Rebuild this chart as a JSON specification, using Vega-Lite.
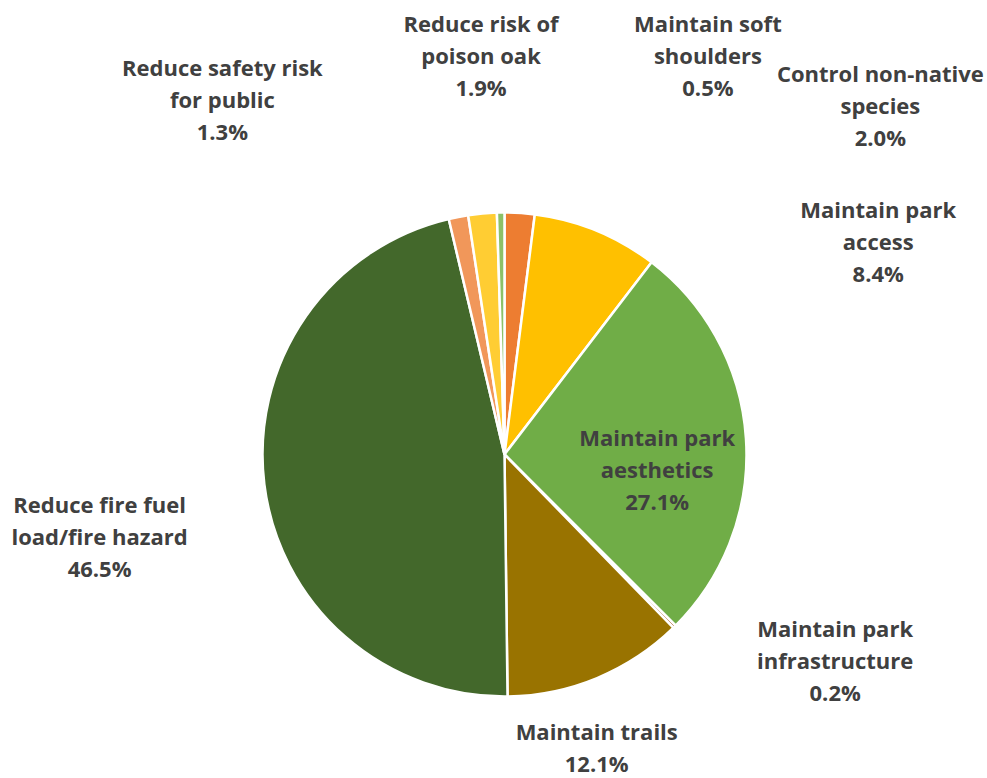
{
  "$schema": "https://vega.github.io/schema/vega-lite/v6.json",
  "width": 963,
  "height": 645,
  "autosize": {"type": "none"},
  "padding": {"left": 23, "top": 132, "right": 1, "bottom": 1},
  "background": "white",
  "data": {
    "values": [
      {"k": 1, "cat": "Control non-native species", "label": "Control non-native\nspecies", "share": 0.020},
      {"k": 2, "cat": "Maintain park access", "label": "Maintain park\naccess", "share": 0.084},
      {"k": 3, "cat": "Maintain park aesthetics", "label": "Maintain park\naesthetics", "share": 0.271},
      {"k": 4, "cat": "Maintain park infrastructure", "label": "Maintain park\ninfrastructure", "share": 0.002},
      {"k": 5, "cat": "Maintain trails", "label": "Maintain trails", "share": 0.121},
      {"k": 6, "cat": "Reduce fire fuel load/fire hazard", "label": "Reduce fire fuel\nload/fire hazard", "share": 0.465},
      {"k": 7, "cat": "Reduce safety risk for public", "label": "Reduce safety risk\nfor public", "share": 0.013},
      {"k": 8, "cat": "Reduce risk of poison oak", "label": "Reduce risk of\npoison oak", "share": 0.019},
      {"k": 9, "cat": "Maintain soft shoulders", "label": "Maintain soft\nshoulders", "share": 0.005}
    ]
  },
  "transform": [
    {"stack": "share", "groupby": [], "sort": [{"field": "k", "order": "ascending"}], "as": ["s0", "s1"]},
    {"fold": ["s0", "s1"], "as": ["edge", "pos"]},
    {"aggregate": [{"op": "mean", "field": "pos", "as": "mid"}], "groupby": ["k", "cat", "label", "share", "s0", "s1"]}
  ],
  "layer": [
    {
      "mark": {"type": "arc", "radius": 242, "stroke": "white", "strokeWidth": 2.5},
      "encoding": {
        "theta": {"field": "s0", "type": "quantitative", "stack": null, "scale": {"domain": [0, 1]}},
        "theta2": {"field": "s1"},
        "color": {
          "field": "cat", "type": "nominal", "legend": null,
          "scale": {
            "domain": ["Control non-native species", "Maintain park access", "Maintain park aesthetics", "Maintain park infrastructure", "Maintain trails", "Reduce fire fuel load/fire hazard", "Reduce safety risk for public", "Reduce risk of poison oak", "Maintain soft shoulders"],
            "range": ["#ED7D31", "#FFC000", "#70AD47", "#9E480E", "#997300", "#43682B", "#F1975A", "#FFCD33", "#8CC168"]
          }
        }
      }
    },
    {
      "transform": [{"filter": {"field": "cat", "equal": "Control non-native species"}}],
      "mark": {"type": "text", "radius": 396, "dx": 351, "dy": 23, "text": {"expr": "datum.label + '\\n' + format(datum.share, '.1%')"}},
      "encoding": {"theta": {"field": "mid", "type": "quantitative", "stack": null}}
    },
    {
      "transform": [{"filter": {"field": "cat", "equal": "Maintain park access"}}],
      "mark": {"type": "text", "radius": 360, "dx": 237, "dy": 97, "text": {"expr": "datum.label + '\\n' + format(datum.share, '.1%')"}},
      "encoding": {"theta": {"field": "mid", "type": "quantitative", "stack": null}}
    },
    {
      "transform": [{"filter": {"field": "cat", "equal": "Maintain park aesthetics"}}],
      "mark": {"type": "text", "radius": 152, "dx": 1, "dy": 2, "text": {"expr": "datum.label + '\\n' + format(datum.share, '.1%')"}},
      "encoding": {"theta": {"field": "mid", "type": "quantitative", "stack": null}}
    },
    {
      "transform": [{"filter": {"field": "cat", "equal": "Maintain park infrastructure"}}],
      "mark": {"type": "text", "radius": 361, "dx": 77, "dy": -74, "text": {"expr": "datum.label + '\\n' + format(datum.share, '.1%')"}},
      "encoding": {"theta": {"field": "mid", "type": "quantitative", "stack": null}}
    },
    {
      "transform": [{"filter": {"field": "cat", "equal": "Maintain trails"}}],
      "mark": {"type": "text", "radius": 301, "dx": -23, "dy": 7, "text": {"expr": "datum.label + '\\n' + format(datum.share, '.1%')"}},
      "encoding": {"theta": {"field": "mid", "type": "quantitative", "stack": null}}
    },
    {
      "transform": [{"filter": {"field": "cat", "equal": "Reduce fire fuel load/fire hazard"}}],
      "mark": {"type": "text", "radius": 409, "dx": 1, "dy": 9, "text": {"expr": "datum.label + '\\n' + format(datum.share, '.1%')"}},
      "encoding": {"theta": {"field": "mid", "type": "quantitative", "stack": null}}
    },
    {
      "transform": [{"filter": {"field": "cat", "equal": "Reduce safety risk for public"}}],
      "mark": {"type": "text", "radius": 426, "dx": -201, "dy": 40, "text": {"expr": "datum.label + '\\n' + format(datum.share, '.1%')"}},
      "encoding": {"theta": {"field": "mid", "type": "quantitative", "stack": null}}
    },
    {
      "transform": [{"filter": {"field": "cat", "equal": "Reduce risk of poison oak"}}],
      "mark": {"type": "text", "radius": 423, "dx": 15, "dy": -1, "text": {"expr": "datum.label + '\\n' + format(datum.share, '.1%')"}},
      "encoding": {"theta": {"field": "mid", "type": "quantitative", "stack": null}}
    },
    {
      "transform": [{"filter": {"field": "cat", "equal": "Maintain soft shoulders"}}],
      "mark": {"type": "text", "radius": 420, "dx": 210, "dy": -3, "text": {"expr": "datum.label + '\\n' + format(datum.share, '.1%')"}},
      "encoding": {"theta": {"field": "mid", "type": "quantitative", "stack": null}}
    }
  ],
  "config": {
    "view": {"stroke": null},
    "text": {"font": "Open Sans", "fontSize": 22, "fontWeight": "bold", "color": "#404040", "align": "center", "baseline": "alphabetic", "lineBreak": "\n", "lineHeight": 32}
  }
}
